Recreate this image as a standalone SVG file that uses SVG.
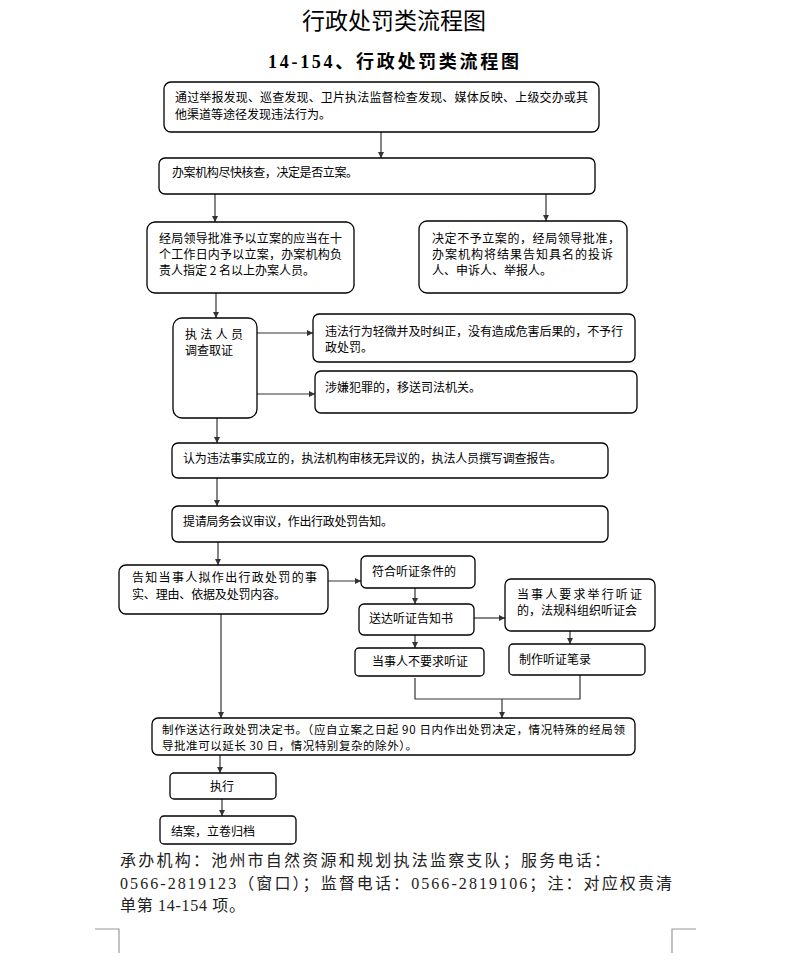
<svg xmlns="http://www.w3.org/2000/svg" width="789" height="972" viewBox="0 0 789 972">
<style>
.box{fill:#fff;stroke:#000;stroke-width:1.3}
.t{font-family:"Noto Sans CJK SC","Liberation Sans",sans-serif;font-size:12px;fill:#000}
.t13{font-family:"Noto Sans CJK SC","Liberation Sans",sans-serif;font-size:12px;fill:#000}
.ts{font-family:"Noto Sans CJK SC","Liberation Sans",sans-serif;font-size:11.5px;fill:#000}
.c{fill:none;stroke:#333;stroke-width:1.2}
.foot{font-family:"Liberation Serif","Noto Sans CJK SC",serif;font-size:16px;fill:#222}
.mark{fill:none;stroke:#999;stroke-width:1.2}
</style>
<defs>
<marker id="ah" viewBox="0 0 8 8" refX="8" refY="4" markerWidth="6" markerHeight="6" markerUnits="userSpaceOnUse" orient="auto">
<path d="M0,0 L8,4 L0,8 z" fill="#333"/>
</marker>
</defs>
<rect width="789" height="972" fill="#fff"/>
<text x="394" y="29" text-anchor="middle" font-family="Noto Sans CJK SC, sans-serif" font-size="23" fill="#000">行政处罚类流程图</text>
<text x="268" y="68" font-family="Liberation Serif, Noto Sans CJK SC, serif" font-weight="bold" font-size="18" textLength="251" fill="#000">14-154、行政处罚类流程图</text>

<g id="connectors">
<line class="c" x1="381" y1="132" x2="381" y2="158" marker-end="url(#ah)"/>
<line class="c" x1="215" y1="194" x2="215" y2="222" marker-end="url(#ah)"/>
<line class="c" x1="546" y1="194" x2="546" y2="221" marker-end="url(#ah)"/>
<line class="c" x1="216" y1="293" x2="216" y2="318" marker-end="url(#ah)"/>
<line class="c" x1="257" y1="333" x2="313" y2="333" marker-end="url(#ah)"/>
<line class="c" x1="257" y1="394" x2="315" y2="394" marker-end="url(#ah)"/>
<line class="c" x1="217" y1="418" x2="217" y2="443" marker-end="url(#ah)"/>
<line class="c" x1="217" y1="478" x2="217" y2="506" marker-end="url(#ah)"/>
<line class="c" x1="218" y1="542" x2="218" y2="565" marker-end="url(#ah)"/>
<line class="c" x1="328" y1="581" x2="361" y2="581" marker-end="url(#ah)"/>
<line class="c" x1="415" y1="588" x2="415" y2="604" marker-end="url(#ah)"/>
<line class="c" x1="474" y1="618" x2="505" y2="618" marker-end="url(#ah)"/>
<line class="c" x1="415" y1="635" x2="415" y2="648" marker-end="url(#ah)"/>
<line class="c" x1="570" y1="631" x2="570" y2="644" marker-end="url(#ah)"/>
<polyline class="c" points="415,678 415,699 580,699 580,675"/>
<line class="c" x1="502" y1="699" x2="502" y2="718" marker-end="url(#ah)"/>
<line class="c" x1="221" y1="614" x2="221" y2="718" marker-end="url(#ah)"/>
<line class="c" x1="220" y1="755" x2="220" y2="773" marker-end="url(#ah)"/>
<line class="c" x1="222" y1="799" x2="222" y2="816" marker-end="url(#ah)"/>
</g>

<g id="n1"><rect class="box" x="164" y="82" width="435" height="50" rx="7"/>
<text class="t" x="175" y="102" textLength="413">通过举报发现、巡查发现、卫片执法监督检查发现、媒体反映、上级交办或其</text>
<text class="t" x="175" y="119">他渠道等途径发现违法行为。</text></g>

<g id="n2"><rect class="box" x="159" y="158" width="436" height="36" rx="6"/>
<text class="t" x="172" y="177" textLength="186">办案机构尽快核查，决定是否立案。</text></g>

<g id="n3"><rect class="box" x="147" y="222" width="207" height="71" rx="8"/>
<text class="t" x="159" y="243" textLength="183">经局领导批准予以立案的应当在十</text>
<text class="t" x="159" y="259" textLength="183">个工作日内予以立案，办案机构负</text>
<text class="t" x="159" y="275">责人指定 2 名以上办案人员。</text></g>

<g id="n4"><rect class="box" x="419" y="221" width="208" height="72" rx="8"/>
<text class="t" x="432" y="243" textLength="188">决定不予立案的，经局领导批准，</text>
<text class="t" x="432" y="259" textLength="181">办案机构将结果告知具名的投诉</text>
<text class="t" x="432" y="275">人、申诉人、举报人。</text></g>

<g id="n5"><rect class="box" x="173" y="318" width="84" height="100" rx="9"/>
<text class="t" x="185" y="339" textLength="58">执 法 人 员</text>
<text class="t" x="185" y="355">调查取证</text></g>

<g id="n6"><rect class="box" x="313" y="314" width="322" height="48" rx="6"/>
<text class="t" x="325" y="336" textLength="298">违法行为轻微并及时纠正，没有造成危害后果的，不予行</text>
<text class="t" x="325" y="352">政处罚。</text></g>

<g id="n7"><rect class="box" x="315" y="371" width="322" height="42" rx="6"/>
<text class="t" x="325" y="392">涉嫌犯罪的，移送司法机关。</text></g>

<g id="n8"><rect class="box" x="172" y="443" width="436" height="35" rx="6"/>
<text class="t" x="183" y="463" textLength="379">认为违法事实成立的，执法机构审核无异议的，执法人员撰写调查报告。</text></g>

<g id="n9"><rect class="box" x="172" y="506" width="436" height="36" rx="6"/>
<text class="t" x="183" y="526" textLength="210">提请局务会议审议，作出行政处罚告知。</text></g>

<g id="n10"><rect class="box" x="119" y="565" width="209" height="49" rx="7"/>
<text class="t13" x="132" y="582" textLength="185">告知当事人拟作出行政处罚的事</text>
<text class="t13" x="132" y="599" textLength="154">实、理由、依据及处罚内容。</text></g>

<g id="n11"><rect class="box" x="361" y="556" width="114" height="32" rx="5"/>
<text class="t" x="372" y="576">符合听证条件的</text></g>

<g id="n12"><rect class="box" x="359" y="604" width="115" height="31" rx="5"/>
<text class="t" x="369" y="623">送达听证告知书</text></g>

<g id="n13"><rect class="box" x="505" y="579" width="150" height="52" rx="6"/>
<text class="t" x="517" y="599" textLength="125">当事人要求举行听证</text>
<text class="t" x="517" y="615">的，法规科组织听证会</text></g>

<g id="n14"><rect class="box" x="355" y="648" width="129" height="28" rx="4"/>
<text class="t" x="372" y="666">当事人不要求听证</text></g>

<g id="n15"><rect class="box" x="509" y="644" width="136" height="31" rx="4"/>
<text class="t" x="519" y="664">制作听证笔录</text></g>

<g id="n16"><rect class="box" x="152" y="718" width="483" height="37" rx="6"/>
<text class="ts" x="162" y="734" textLength="463">制作送达行政处罚决定书。（应自立案之日起 90 日内作出处罚决定，情况特殊的经局领</text>
<text class="ts" x="162" y="750" textLength="255">导批准可以延长 30 日，情况特别复杂的除外）。</text></g>

<g id="n17"><rect class="box" x="170" y="773" width="106" height="26" rx="4"/>
<text class="t" x="222" y="791" text-anchor="middle">执行</text></g>

<g id="n18"><rect class="box" x="160" y="816" width="136" height="28" rx="4"/>
<text class="t" x="171" y="836">结案，立卷归档</text></g>

<text class="foot" x="120" y="866" textLength="490">承办机构：池州市自然资源和规划执法监察支队；服务电话：</text>
<text class="foot" x="120" y="889" textLength="552">0566-2819123（窗口）；监督电话：0566-2819106；注：对应权责清</text>
<text class="foot" x="120" y="911" textLength="125">单第 14-154 项。</text>

<polyline class="mark" points="95,929 119,929 119,953"/>
<polyline class="mark" points="696,929 672,929 672,953"/>
</svg>
